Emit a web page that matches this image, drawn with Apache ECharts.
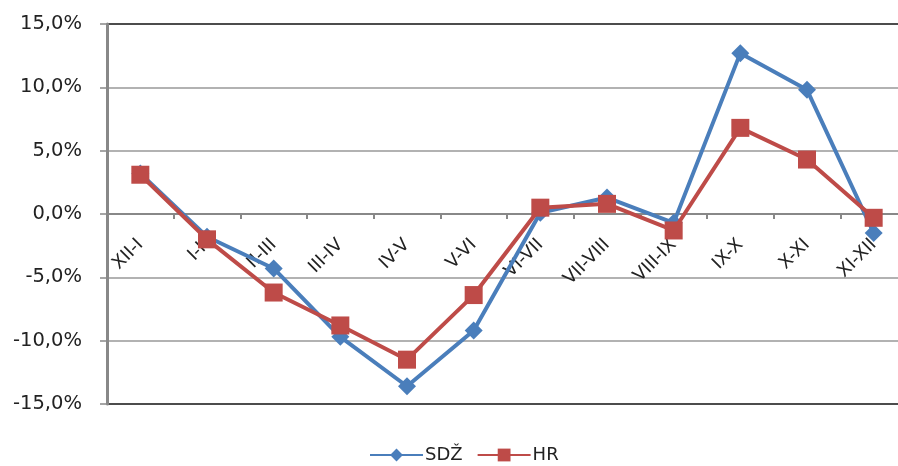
<!DOCTYPE html>
<html>
<head>
<meta charset="utf-8">
<script src="https://cdn.jsdelivr.net/npm/echarts@6/dist/echarts.min.js"></script>
<style>
html,body{margin:0;padding:0;background:#fff;overflow:hidden;}
#c{width:898px;height:466px;}
</style>
</head>
<body>
<div id="c"></div>
<script>
var categories = ['XII-I','I-II','II-III','III-IV','IV-V','V-VI','VI-VII','VII-VIII','VIII-IX','IX-X','X-XI','XI-XII'];
var sdz = [3.2, -1.8, -4.3, -9.7, -13.6, -9.2, 0.1, 1.3, -0.7, 12.7, 9.8, -1.5];
var hr  = [3.1, -2.0, -6.2, -8.8, -11.5, -6.4, 0.5, 0.8, -1.3, 6.8, 4.3, -0.3];
var yTicks = {min: -15, max: 15, interval: 5};

var chart = echarts.init(document.getElementById('c'));
var font = 'DejaVu Sans';
chart.setOption({
  animation: false,
  backgroundColor: '#fff',
  grid: {left: 107, top: 24, height: 380, width: 800, outerBoundsMode: 'none', containLabel: false, show: false},
  legend: {
    bottom: -3, left: 364,
    itemWidth: 53, itemHeight: 16, itemGap: 14,
    textStyle: {fontFamily: font, fontSize: 18, color: '#222', padding: [0, 0, 0, -3]},
    data: ['SDŽ','HR']
  },
  xAxis: [{
    type: 'category',
    data: categories,
    boundaryGap: true,
    position: 'bottom',
    offset: -190,
    axisLine: {onZero: false, lineStyle: {color: '#888', width: 2}},
    axisTick: {show: true, length: 5, lineStyle: {color: '#888', width: 2}},
    axisLabel: {rotate: 45, margin: 28, fontFamily: font, fontSize: 18, color: '#222'},
    splitLine: {show: false}
  }],
  yAxis: {
    type: 'value',
    min: yTicks.min, max: yTicks.max, interval: yTicks.interval,
    axisLine: {show: true, lineStyle: {color: '#888', width: 3}},
    axisTick: {show: true, inside: false, length: 7, lineStyle: {color: '#888', width: 1.5}},
    axisLabel: {margin: 25, fontFamily: font, fontSize: 19.5, color: '#222',
      formatter: function(v){ return v.toFixed(1).replace('.', ',') + '%'; }},
    splitLine: {show: true, showMinLine: true, showMaxLine: true, lineStyle: {color: ['#111','#999','#999','#999','#999','#999','#111'], width: 1.5}}
  },
  series: [
    {name: 'SDŽ', type: 'line', data: sdz, symbol: 'diamond', symbolSize: 18,
     lineStyle: {color: '#4a7ebb', width: 4}, itemStyle: {color: '#4a7ebb'}, z: 3},
    {name: 'HR', type: 'line', data: hr, symbol: 'rect', symbolSize: 18,
     lineStyle: {color: '#be4b48', width: 4}, itemStyle: {color: '#be4b48'}, z: 4}
  ]
});
</script>
</body>
</html>
